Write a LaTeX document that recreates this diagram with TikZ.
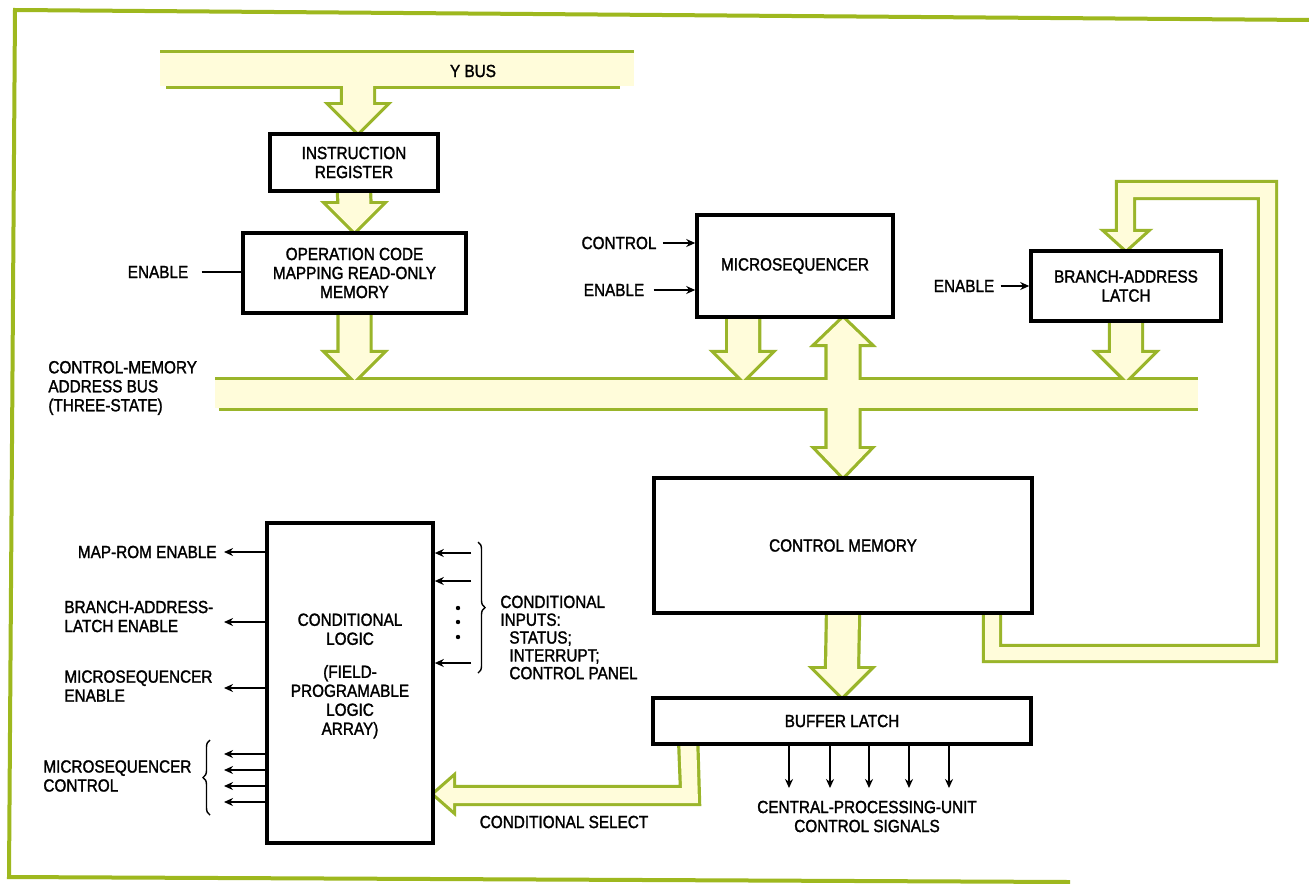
\documentclass[tikz,border=0pt]{standalone}
\usepackage{fontspec}
\setmainfont{Liberation Sans}[FakeStretch=0.87,FakeBold=1.6]
\usetikzlibrary{calc,arrows.meta,decorations.pathreplacing}
\definecolor{busgreen}{RGB}{154,181,42}
\definecolor{busfill}{RGB}{255,252,218}
\definecolor{framegreen}{RGB}{158,184,30}
\pgfdeclarelayer{gstroke}
\pgfdeclarelayer{gfill}
\pgfsetlayers{gstroke,gfill,main}
% wide hollow bus-arrow shape: green outline made by a doubled stroke under the fill
\newcommand\fatshape[1]{%
  \begin{pgfonlayer}{gstroke}\draw[draw=busgreen,line width=3.2pt,line join=miter] #1;\end{pgfonlayer}%
  \begin{pgfonlayer}{gfill}\fill[busfill] #1;\end{pgfonlayer}}
% vertical wide arrow from #1 to tip #2, #3 = 1 (down) or -1 (up)
\newcommand\fatv[3]{\fatshape{($(#1)+(-15,0)$) -- ($(#2)+(-15,{-27*#3})$) -- ($(#2)+(-27,{-27*#3})$) -- (#2) -- ($(#2)+(27,{-27*#3})$) -- ($(#2)+(15,{-27*#3})$) -- ($(#1)+(15,0)$) -- cycle}}
\tikzset{
  box/.style={draw=black, line width=1.8pt, fill=white, inner sep=0pt, align=center},
  lbl/.style={inner sep=0pt, align=center},
  sig/.style={-{Stealth[length=4.5pt,width=4pt]}, line width=0.9pt},
  plain/.style={line width=0.9pt},
  frame/.style={draw=framegreen, line width=2pt},
  bracestyle/.style={decorate, decoration={brace, amplitude=3.5pt}, line width=0.7pt}
}
\begin{document}
\begin{tikzpicture}[x=0.5pt,y=-0.5pt, font=\fontsize{8.8}{9.5}\selectfont]
\useasboundingbox (0,0) rectangle (1309,883);
\begin{pgfonlayer}{gstroke}
  \fill[white] (0,0) rectangle (1309,883);
\end{pgfonlayer}

% frame
\draw[frame] (1309,20) -- (15,10) -- (9,877) -- (1070,882);

% boxes
\node[box, minimum width=84pt, minimum height=28.5pt] (ir) at (354,162.5) {INSTRUCTION\\REGISTER};
\node[box, minimum width=111.5pt, minimum height=40pt] (oprom) at (354.5,273) {OPERATION CODE\\MAPPING READ-ONLY\\MEMORY};
\node[box, minimum width=98pt, minimum height=51pt] (mseq) at (795,266) {MICROSEQUENCER};
\node[box, minimum width=95pt, minimum height=35pt] (bal) at (1126,286) {BRANCH-ADDRESS\\LATCH};
\node[box, minimum width=189pt, minimum height=67.5pt] (cm) at (843,545.5) {CONTROL MEMORY};
\node[box, minimum width=189pt, minimum height=23pt] (bl) at (842,721) {BUFFER LATCH};
\node[box, minimum width=83pt, minimum height=160pt] (cl) at (350,683) {};
\node[lbl] (clt) at (350,676) {CONDITIONAL\\LOGIC\\[7pt](FIELD-\\PROGRAMABLE\\LOGIC\\ARRAY)};

% labels
\node[lbl] (ybus) at (473,71) {Y BUS};
\node[lbl] (en1) at (158,272) {ENABLE};
\node[lbl, anchor=west, align=left] (cmab) at (48,388) {CONTROL-MEMORY\\ADDRESS BUS\\(THREE-STATE)};
\node[lbl] (ctl) at (619,243) {CONTROL};
\node[lbl] (en2) at (614,290) {ENABLE};
\node[lbl] (en3) at (964,286) {ENABLE};
\node[lbl] (cpu) at (867,816.5) {CENTRAL-PROCESSING-UNIT\\CONTROL SIGNALS};
\node[lbl, anchor=east] (mre) at (217,552) {MAP-ROM ENABLE};
\node[lbl, anchor=west, align=left] (bale) at (64,616.5) {BRANCH-ADDRESS-\\LATCH ENABLE};
\node[lbl, anchor=west, align=left] (mse) at (64,686) {MICROSEQUENCER\\ENABLE};
\node[lbl, anchor=west, align=left] (msc) at (43,776) {MICROSEQUENCER\\CONTROL};
\node[lbl, anchor=west, align=left, font=\fontsize{8.8}{8.9}\selectfont] (cin) at (500,637.5)
  {CONDITIONAL\\INPUTS:\\\hspace*{4.5pt}STATUS;\\\hspace*{4.5pt}INTERRUPT;\\\hspace*{4.5pt}CONTROL PANEL};
\node[lbl] (csel) at (564,822) {CONDITIONAL SELECT};

% buses
\begin{pgfonlayer}{gstroke}
  \draw[draw=busgreen,line width=3.2pt] (160,53) -- (634,53) (166,86) -- (620,86);
  \draw[draw=busgreen,line width=3.2pt] (215,380) -- (1198,380) (219,408) -- (1198,408);
\end{pgfonlayer}
\begin{pgfonlayer}{gfill}
  \fill[busfill] (160,53) rectangle (634,86);
  \fill[busfill] (215,380) rectangle (1198,408);
\end{pgfonlayer}
\coordinate (yb) at (358,70);
\coordinate (cmbus) at (0,380);
\coordinate (ms1) at ($(mseq.south west)+(48,0)$);

% wide arrows
\fatv{yb}{yb |- ir.north}{1}
\fatv{ir.south}{oprom.north}{1}
\fatv{oprom.south}{oprom.south |- cmbus}{1}
\fatv{ms1}{ms1 |- cmbus}{1}
\fatv{bal.south}{bal.south |- cmbus}{1}
\fatv{cm.south}{bl.north}{1}
% bidirectional arrow microsequencer <-> bus <-> control memory
\coordinate (bdt) at (cm.north |- mseq.south);
\fatshape{(bdt) -- ($(bdt)+(26,25)$) -- ($(bdt)+(15.5,25)$) -- ($(cm.north)+(15.5,-27)$) -- ($(cm.north)+(26,-27)$) -- (cm.north)
  -- ($(cm.north)+(-26,-27)$) -- ($(cm.north)+(-15.5,-27)$) -- ($(bdt)+(-15.5,25)$) -- ($(bdt)+(-26,25)$) -- cycle}
% feedback from control memory to branch-address latch
\fatshape{($(cm.south)+(142,-4)$) -- (985,660) -- (1275,660) -- (1275,183) -- (1118,183) -- (1118,232) -- (1107,232) -- (bal.north)
  -- (1145,232) -- (1133,232) -- (1133,197) -- (1260,197) -- (1260,647) -- (999,647) -- ($(cm.south)+(156,-4)$) -- cycle}
% conditional select
\fatshape{($(bl.south west)+(29,-4)$) -- (682,788) -- (453,788) -- (453,778) -- (cl.east |- 0,794) -- (453,810) -- (453,803)
  -- (698,803) -- ($(bl.south west)+(45,-4)$) -- cycle}

% thin signal lines
\draw[plain, shorten <=6.5pt] (en1.east) -- (en1.east -| oprom.west);
\draw[sig, shorten <=3pt] (ctl.east) -- (ctl.east -| mseq.west);
\draw[sig, shorten <=4.5pt] (en2.east) -- (en2.east -| mseq.west);
\draw[sig, shorten <=3pt] (en3.east) -- (en3.east -| bal.west);

\coordinate (outx) at (224,0);
\foreach \yy in {552,622,688,754,770,786,802}
  \draw[sig] (cl.west |- 0,\yy) -- (outx |- 0,\yy);
\coordinate (inx) at (471,0);
\foreach \yy in {553,581,663}
  \draw[sig] (inx |- 0,\yy) -- (cl.east |- 0,\yy);
\foreach \yy in {608,622,637}
  \fill (458,\yy) circle (1.1pt);
\coordinate (cpuy) at (0,788);
\foreach \xx in {789,830,869,909,949}
  \draw[sig] (bl.south -| \xx,0) -- (cpuy -| \xx,0);

% braces
\draw[bracestyle] (210,815) -- (210,740);
\draw[bracestyle] (478,542) -- (478,673);
\end{tikzpicture}
\end{document}
